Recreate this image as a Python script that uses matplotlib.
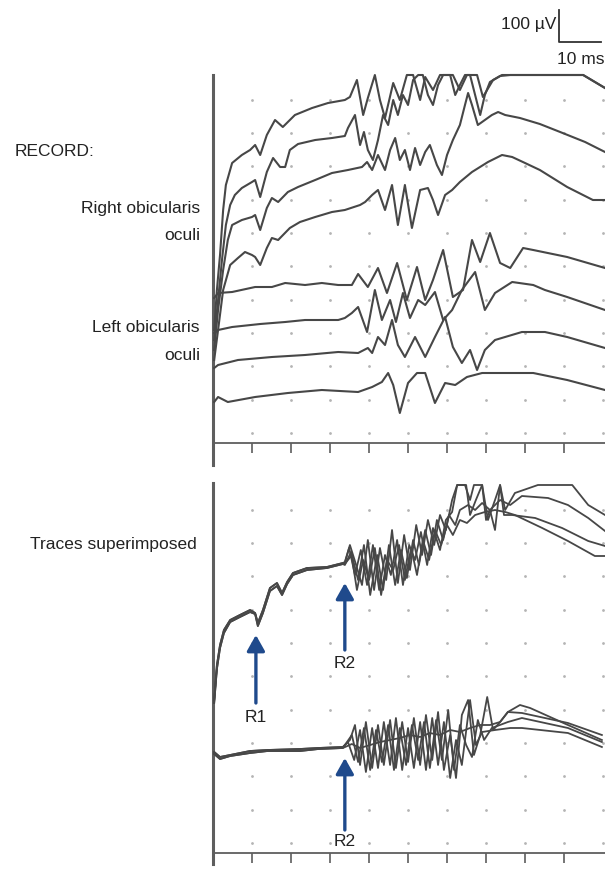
import matplotlib
matplotlib.use('Agg')
import matplotlib.pyplot as plt
from matplotlib.lines import Line2D

plt.rcParams['font.family'] = ['Liberation Sans', 'DejaVu Sans']

# ---- data: (time ms, amplitude uV) ----
# RECORD: right orbicularis oculi, 4 sweeps (R1 + R2)
right_1 = [(0.3, 339), (1.0, 459), (1.8, 564), (2.6, 699), (3.3, 774), (4.9, 840), (7.4, 864),
           (9.5, 879), (10.8, 894), (12.1, 864), (13.8, 924), (15.9, 969), (17.9, 948), (21.0, 984),
           (25.4, 1005), (29.5, 1020), (33.8, 1029), (35.1, 1038), (36.9, 1089), (38.5, 984),
           (39.7, 1035), (41.5, 1104), (42.8, 1029), (44.1, 975), (46.2, 1080), (47.9, 1029),
           (49.7, 1104), (51.3, 1104), (53.1, 1029), (54.4, 1098), (56.4, 1059), (58.2, 1104),
           (61.5, 1104), (63.3, 1059), (65.1, 1104), (67.7, 1104), (69.2, 1038), (71.8, 1089),
           (74.1, 1104), (94.9, 1104), (100.5, 1065)]
right_2 = [(0.3, 309), (1.3, 429), (2.3, 549), (3.3, 654), (4.4, 714), (5.6, 744), (7.4, 765),
           (10.0, 783), (10.8, 789), (12.1, 738), (13.8, 813), (15.4, 855), (17.2, 828), (18.5, 828),
           (19.7, 879), (21.8, 897), (26.2, 909), (30.5, 915), (33.8, 921), (34.6, 945), (36.4, 984),
           (37.7, 894), (38.7, 933), (39.7, 879), (41.0, 849), (42.3, 909), (43.6, 984), (44.9, 954),
           (46.2, 1029), (47.4, 984), (48.7, 1044), (50.0, 1014), (51.3, 1089), (52.6, 1104),
           (53.8, 1104), (55.1, 1044), (56.4, 1014), (57.7, 1074), (59.0, 1104), (60.8, 1104),
           (62.1, 1044), (63.3, 1074), (64.6, 1104), (65.9, 1104), (67.2, 1044), (68.5, 984),
           (69.7, 1044), (71.0, 1083), (73.6, 1101), (76.2, 1104), (94.9, 1104), (100.5, 1065)]
right_3 = [(0.3, 279), (1.3, 399), (2.6, 519), (3.8, 609), (4.9, 654), (7.4, 669), (10.0, 678),
           (10.8, 684), (12.1, 639), (13.8, 705), (15.1, 735), (16.7, 723), (19.2, 753), (21.8, 768),
           (26.2, 789), (30.5, 810), (34.6, 819), (38.2, 828), (39.5, 843), (40.8, 819), (42.3, 864),
           (44.1, 819), (45.4, 879), (46.7, 915), (47.9, 849), (49.2, 879), (50.5, 819), (51.8, 885),
           (53.1, 834), (54.4, 873), (55.6, 894), (57.4, 834), (58.7, 804), (60.0, 864), (61.5, 909),
           (63.3, 954), (64.6, 1014), (65.4, 1050), (66.4, 1014), (67.9, 954), (69.7, 969),
           (71.5, 984), (73.1, 993), (74.9, 984), (78.7, 975), (83.8, 957), (89.0, 933),
           (95.4, 903), (100.5, 873)]
right_4 = [(0.3, 249), (1.3, 339), (2.6, 459), (4.4, 534), (6.4, 555), (8.2, 573), (10.0, 564),
           (10.8, 558), (12.1, 534), (13.8, 585), (15.1, 615), (16.7, 609), (19.7, 645), (22.3, 663),
           (26.2, 678), (30.5, 693), (33.8, 699), (37.7, 714), (39.0, 723), (40.8, 744), (42.3, 759),
           (44.1, 699), (45.9, 774), (47.4, 654), (49.2, 774), (51.0, 645), (53.1, 759), (55.1, 765),
           (56.4, 729), (57.7, 684), (59.5, 744), (61.3, 759), (63.3, 783), (66.4, 813), (70.5, 843),
           (74.1, 864), (76.7, 858), (80.0, 840), (83.8, 819), (90.8, 768), (97.4, 729), (100.5, 729)]

# RECORD: left orbicularis oculi, 4 sweeps (R2 only)
left_1 = [(0.3, 435), (1.3, 450), (4.9, 453), (10.8, 468), (15.1, 468), (18.5, 480), (23.6, 474),
          (27.9, 480), (32.1, 474), (35.6, 474), (37.2, 507), (39.7, 468), (42.3, 525), (44.6, 450),
          (47.2, 540), (49.7, 429), (52.3, 528), (54.4, 429), (56.4, 489), (59.0, 579), (61.5, 438),
          (64.1, 459), (66.4, 609), (68.5, 543), (71.0, 630), (73.6, 540), (76.2, 525), (79.5, 585),
          (82.1, 579), (90.8, 558), (100.5, 525)]
left_2 = [(0.3, 330), (1.3, 339), (4.9, 348), (12.1, 357), (18.5, 363), (23.6, 369), (32.1, 369),
          (33.8, 375), (35.6, 390), (37.2, 408), (39.5, 333), (41.5, 459), (43.3, 369), (45.4, 429),
          (46.9, 363), (48.7, 450), (50.5, 375), (52.6, 429), (54.4, 414), (56.9, 453), (59.0, 369),
          (61.3, 399), (63.8, 459), (67.2, 513), (69.7, 399), (72.3, 450), (76.7, 483), (82.1, 474),
          (85.1, 459), (90.8, 438), (100.5, 399)]
left_3 = [(0.3, 225), (1.3, 234), (6.4, 249), (15.1, 258), (23.6, 264), (32.1, 273), (37.2, 270),
          (39.7, 285), (40.8, 270), (42.3, 318), (44.1, 294), (45.9, 369), (47.4, 294), (49.2, 258),
          (51.8, 318), (54.4, 258), (56.9, 318), (59.5, 378), (61.5, 288), (63.8, 240), (65.9, 279),
          (67.7, 219), (69.7, 279), (72.3, 309), (79.2, 333), (85.1, 333), (90.8, 318), (100.5, 285)]
left_4 = [(0.3, 123), (1.3, 138), (3.8, 123), (10.8, 138), (19.2, 150), (27.9, 159), (37.2, 153),
          (40.8, 168), (43.3, 183), (44.9, 210), (46.2, 174), (47.9, 90), (50.0, 180), (52.3, 210),
          (54.4, 210), (56.9, 120), (59.5, 180), (62.1, 174), (65.1, 198), (69.0, 210), (75.4, 210),
          (82.1, 210), (90.8, 189), (100.5, 159)]

# TRACES SUPERIMPOSED: right side (upper bundle)
sup_right_early_a = [(0.3, 459), (1.0, 564), (1.8, 624), (2.8, 669), (4.4, 699), (6.9, 714),
                     (9.5, 729), (10.8, 720), (11.5, 690), (12.8, 729), (14.6, 795), (16.4, 810),
                     (17.7, 780), (19.0, 813), (20.5, 840), (24.1, 855), (29.2, 858), (33.3, 870)]
sup_right_early_b = [(0.3, 450), (1.0, 552), (1.8, 615), (2.8, 660), (4.4, 693), (6.9, 708),
                     (9.5, 723), (10.8, 717), (11.5, 681), (12.8, 720), (14.6, 786), (16.4, 801),
                     (17.7, 774), (19.0, 807), (20.5, 834), (24.1, 849), (29.2, 855), (33.3, 867)]
sup_right_a = [(33.8, 873), (35.1, 924), (36.7, 864), (38.2, 804), (39.7, 939), (41.3, 789),
               (42.8, 915), (44.4, 819), (45.9, 969), (47.4, 810), (49.0, 954), (50.5, 849),
               (52.1, 984), (53.6, 894), (55.1, 999), (56.7, 924), (58.2, 1014), (59.7, 969),
               (61.3, 1059), (62.6, 1104), (64.9, 1104), (65.9, 1014), (67.4, 1059), (69.0, 1104),
               (70.5, 999), (72.3, 1059), (73.6, 1104), (74.9, 1029), (77.4, 1080), (83.3, 1104),
               (92.1, 1104), (96.2, 1044), (100.5, 1014)]
sup_right_b = [(33.8, 867), (35.6, 894), (37.2, 819), (38.7, 924), (40.3, 774), (42.1, 894),
               (43.6, 789), (45.1, 924), (46.7, 804), (48.2, 909), (49.7, 825), (51.3, 939),
               (52.8, 864), (54.4, 969), (55.9, 894), (57.4, 999), (59.0, 939), (60.5, 1014),
               (62.1, 984), (63.3, 1029), (65.4, 1044), (67.2, 1029), (69.0, 1050), (71.0, 1029),
               (73.6, 1059), (76.2, 1044), (79.2, 1071), (85.9, 1065), (91.0, 1044), (96.2, 1005),
               (100.5, 966)]
sup_right_c = [(33.8, 870), (34.9, 915), (36.4, 834), (37.9, 909), (39.5, 804), (41.0, 924),
               (42.6, 789), (44.1, 894), (45.6, 834), (47.2, 939), (48.7, 804), (50.3, 924),
               (51.8, 879), (53.3, 963), (54.9, 864), (56.4, 975), (58.2, 909), (59.7, 999),
               (61.3, 1023), (62.6, 1104), (64.6, 1104), (65.9, 1059), (66.9, 1104), (69.0, 1104),
               (70.0, 999), (71.0, 1029), (72.3, 969), (73.6, 1104), (74.6, 1014), (76.7, 1014),
               (82.6, 1005), (89.5, 975), (96.2, 936), (100.5, 921)]
sup_right_d = [(33.8, 864), (35.4, 903), (36.9, 789), (38.5, 879), (40.0, 819), (41.5, 915),
               (43.1, 774), (44.6, 879), (46.2, 849), (47.7, 924), (49.2, 819), (50.8, 915),
               (52.3, 834), (53.8, 939), (55.4, 879), (56.9, 969), (58.5, 924), (60.0, 984),
               (61.5, 954), (63.3, 999), (65.1, 990), (67.2, 1014), (69.7, 1023), (72.3, 1029),
               (74.9, 1023), (77.4, 1014), (84.4, 975), (91.0, 936), (97.9, 891), (100.5, 891)]

# TRACES SUPERIMPOSED: left side (lower bundle)
sup_left_early_a = [(0.3, 303), (1.8, 288), (4.4, 294), (9.5, 306), (14.0, 309), (22.3, 312),
                    (27.0, 315), (33.3, 318)]
sup_left_early_b = [(0.3, 297), (1.8, 282), (4.4, 291), (9.5, 300), (14.0, 306), (22.3, 306),
                    (27.0, 312), (33.3, 315)]
sup_left_e = [(35.1, 339), (36.4, 384), (37.7, 264), (39.2, 393), (40.8, 255), (42.3, 384),
              (43.8, 264), (45.4, 399), (46.9, 255), (48.5, 393), (50.0, 273), (51.5, 405),
              (53.1, 264), (54.6, 414), (56.2, 279), (57.7, 423), (59.2, 249), (60.8, 354),
              (62.3, 225), (63.8, 414), (65.4, 459), (66.9, 294), (68.5, 354), (70.3, 468),
              (71.8, 369), (73.6, 393), (75.6, 423), (79.2, 420), (91.0, 390), (99.7, 354)]
sup_left_f = [(35.6, 354), (37.2, 273), (38.7, 375), (40.3, 249), (41.8, 369), (43.3, 273),
              (44.9, 384), (46.4, 249), (47.9, 375), (49.5, 264), (51.0, 384), (52.6, 279),
              (54.1, 393), (55.6, 255), (57.2, 399), (58.7, 279), (60.3, 429), (61.8, 249),
              (63.3, 384), (64.9, 324), (66.4, 288), (67.9, 399), (69.5, 339), (71.5, 375),
              (75.6, 393), (79.2, 405), (91.0, 375), (99.7, 333)]
sup_left_g = [(34.6, 333), (36.2, 279), (37.7, 369), (39.2, 243), (40.8, 375), (42.3, 255),
              (43.8, 393), (45.4, 264), (46.9, 405), (48.5, 249), (50.0, 375), (51.5, 255),
              (53.1, 393), (54.6, 249), (56.2, 405), (57.7, 264), (59.2, 393), (60.8, 225),
              (62.3, 339), (63.8, 264), (65.9, 459), (67.4, 324), (69.0, 363), (72.3, 369),
              (76.2, 375), (79.2, 375), (91.0, 360), (99.7, 318)]
sup_left_h = [(35.6, 327), (37.7, 315), (40.3, 324), (42.8, 333), (45.4, 339), (47.9, 345),
              (50.5, 354), (53.1, 348), (55.6, 360), (58.2, 354), (60.8, 369), (63.3, 363),
              (65.9, 375), (68.5, 384), (71.0, 384), (73.6, 393), (75.6, 423), (78.7, 444),
              (81.3, 435), (91.0, 384), (99.7, 339)]

grid_times = [10, 20, 30, 40, 50, 60, 70, 80, 90, 100]
grid_levels = [30, 130, 230, 330, 430, 530, 630, 730, 830, 930, 1030]
tick_times = [10, 20, 30, 40, 50, 60, 70, 80, 90]

# arrows in the lower panel: (label, time ms, tail uV, tip uV, label uV)
arrows = [('R1', 11.0, 450, 654, 408),
          ('R2', 33.8, 609, 810, 570),
          ('R2', 33.8, 69, 285, 33)]

TRACE = '#474747'
AXIS = '#5e5e5e'
DOT = '#b4b4b4'
ARROW = '#1f4a8c'
TXT = '#222222'
FS = 12.5


def setup(ax, ylim, stim_top):
    ax.set_xlim(0, 100.5)
    ax.set_ylim(*ylim)
    for s in ('top', 'right'):
        ax.spines[s].set_visible(False)
    ax.spines['left'].set_bounds(ylim[0] + 15 if ylim[0] > -60 else -66, stim_top)
    ax.spines['left'].set_linewidth(2.2)
    ax.spines['left'].set_color(AXIS)
    ax.spines['bottom'].set_position(('data', 0))
    ax.spines['bottom'].set_bounds(0, 100.5)
    ax.spines['bottom'].set_linewidth(1.3)
    ax.spines['bottom'].set_color(AXIS)
    ax.set_xticks(tick_times)
    ax.set_yticks([])
    ax.tick_params(axis='x', direction='out', length=7, width=1.2, color=AXIS,
                   labelbottom=False)
    gx = [t for t in grid_times for _ in grid_levels]
    gy = [v for _ in grid_times for v in grid_levels]
    ax.scatter(gx, gy, s=4, color=DOT, linewidths=0, zorder=1)
    ax.patch.set_alpha(0)


def draw(ax, pts, lw=1.5):
    t = [p[0] for p in pts]
    v = [p[1] for p in pts]
    ax.plot(t, v, color=TRACE, lw=lw, zorder=3, solid_joinstyle='round')


fig = plt.figure(figsize=(6.05, 8.69), dpi=100)
ax_top = fig.add_axes([213 / 605, 1 - 470 / 869, 392 / 605, 410 / 869])
ax_bot = fig.add_axes([213 / 605, 0.0, 392 / 605, 394 / 869])

setup(ax_top, (-81, 1149), 1104)
setup(ax_bot, (-48, 1134), 1110)

for tr in (right_1, right_2, right_3, right_4, left_1, left_2, left_3, left_4):
    draw(ax_top, tr)

draw(ax_bot, sup_right_early_a + sup_right_a, 1.3)
draw(ax_bot, sup_right_early_b + sup_right_b, 1.3)
draw(ax_bot, sup_right_early_a + sup_right_c, 1.3)
draw(ax_bot, sup_right_early_b + sup_right_d, 1.3)
draw(ax_bot, sup_left_early_a + sup_left_e, 1.3)
draw(ax_bot, sup_left_early_b + sup_left_f, 1.3)
draw(ax_bot, sup_left_early_a + sup_left_g, 1.3)
draw(ax_bot, sup_left_early_b + sup_left_h, 1.3)

for lab, t, tail, tip, ly in arrows:
    ax_bot.annotate('', xy=(t, tip), xytext=(t, tail),
                    arrowprops=dict(arrowstyle='-|>,head_width=0.45,head_length=0.8',
                                    color=ARROW, lw=2.4, shrinkA=0, shrinkB=0,
                                    mutation_scale=12), zorder=5)
    ax_bot.text(t, ly, lab, ha='center', va='center', fontsize=FS, color=TXT, zorder=5)

# scale bar: 100 uV x 10 ms, above the top panel
ax_top.add_line(Line2D([88.7, 88.7, 99.5], [1299, 1203, 1203], color='#333333', lw=1.3,
                       clip_on=False))
ax_top.text(88.0, 1254, '100 µV', ha='right', va='center', fontsize=FS, color=TXT)
ax_top.text(94.4, 1149, '10 ms', ha='center', va='center', fontsize=FS, color=TXT)

fig.text(15 / 605, 1 - 152 / 869, 'RECORD:', ha='left', va='center', fontsize=FS, color=TXT)
fig.text(200 / 605, 1 - 208 / 869, 'Right obicularis', ha='right', va='center', fontsize=FS,
         color=TXT)
fig.text(200 / 605, 1 - 235 / 869, 'oculi', ha='right', va='center', fontsize=FS, color=TXT)
fig.text(200 / 605, 1 - 328 / 869, 'Left obicularis', ha='right', va='center', fontsize=FS,
         color=TXT)
fig.text(200 / 605, 1 - 355 / 869, 'oculi', ha='right', va='center', fontsize=FS, color=TXT)
fig.text(197 / 605, 1 - 545 / 869, 'Traces superimposed', ha='right', va='center', fontsize=FS,
         color=TXT)

fig.savefig('out.png', dpi=100)
